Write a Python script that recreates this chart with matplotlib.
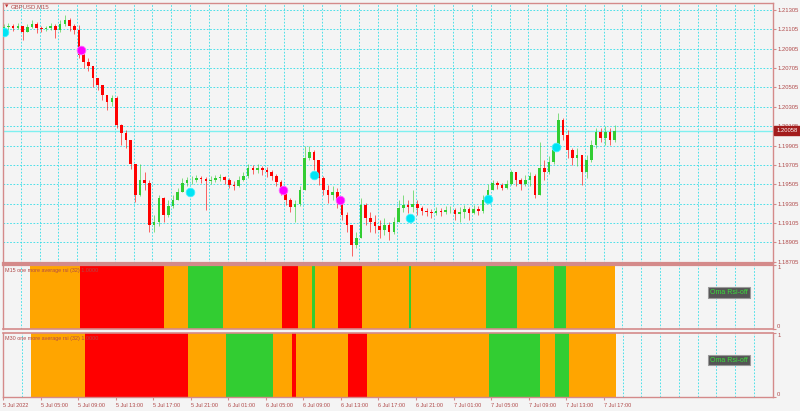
import matplotlib
matplotlib.use('Agg')
import matplotlib.pyplot as plt
import numpy as np

plt.rcParams['font.family'] = ['Liberation Sans', 'DejaVu Sans']

# ---------------- data ----------------
symbol_title = "GBPUSD,M15"
first_open = 1.2111
# 30-minute candles starting 5 Jul 2022 01:00 (x in M15 bar units)
closes = [1.2113, 1.2114, 1.2112, 1.2114, 1.2108, 1.2113, 1.2116, 1.2112, 1.2111, 1.2112,
          1.2114, 1.2110, 1.2116, 1.2120, 1.2114, 1.2110, 1.2084, 1.2077, 1.2073, 1.2060,
          1.2053, 1.2043, 1.2035, 1.2040, 1.2012, 1.2004, 1.1996, 1.1971, 1.1940, 1.1955,
          1.1952, 1.1909, 1.1912, 1.1936, 1.1919, 1.1928, 1.1934, 1.1943, 1.1952, 1.1955,
          1.1955, 1.1957, 1.1956, 1.1954, 1.1955, 1.1957, 1.1958, 1.1955, 1.1950, 1.1949,
          1.1955, 1.1959, 1.1967, 1.1965, 1.1967, 1.1965, 1.1963, 1.1959, 1.1953, 1.1943,
          1.1934, 1.1927, 1.1930, 1.1945, 1.1978, 1.1984, 1.1976, 1.1957, 1.1945, 1.1939,
          1.1943, 1.1934, 1.1919, 1.1909, 1.1888, 1.1895, 1.1929, 1.1916, 1.1912, 1.1908,
          1.1903, 1.1909, 1.1901, 1.1912, 1.1926, 1.1929, 1.1927, 1.1930, 1.1926, 1.1923,
          1.1922, 1.1921, 1.1923, 1.1922, 1.1924, 1.1924, 1.1920, 1.1922, 1.1925, 1.1921,
          1.1925, 1.1923, 1.1934, 1.1945, 1.1952, 1.1950, 1.1947, 1.1951, 1.1963, 1.1955,
          1.1951, 1.1955, 1.1959, 1.1940, 1.1967, 1.1963, 1.1974, 1.1986, 1.2017, 1.2001,
          1.1986, 1.1978, 1.1981, 1.1963, 1.1976, 1.1991, 1.2005, 1.1998, 1.2005, 1.1996,
          1.20058]
highs = [1.2116, 1.2117, 1.2116, 1.2117, 1.2114, 1.2116, 1.2120, 1.2118, 1.2114, 1.2114,
         1.2117, 1.2116, 1.2120, 1.2125, 1.2122, 1.2116, 1.2115, 1.2087, 1.2081, 1.2073,
         1.2060, 1.2053, 1.2043, 1.2043, 1.2042, 1.2013, 1.2007, 1.1996, 1.1971, 1.1971,
         1.1963, 1.1955, 1.1919, 1.1940, 1.1937, 1.1934, 1.1940, 1.1947, 1.1957, 1.1958,
         1.1959, 1.1960, 1.1959, 1.1958, 1.1959, 1.1960, 1.1961, 1.1959, 1.1957, 1.1954,
         1.1959, 1.1963, 1.1972, 1.1970, 1.1972, 1.1969, 1.1968, 1.1965, 1.1961, 1.1955,
         1.1945, 1.1936, 1.1934, 1.1949, 1.1990, 1.1990, 1.1986, 1.1976, 1.1959, 1.1950,
         1.1949, 1.1947, 1.1936, 1.1922, 1.1909, 1.1901, 1.1936, 1.1931, 1.1922, 1.1919,
         1.1914, 1.1916, 1.1912, 1.1917, 1.1934, 1.1939, 1.1934, 1.1945, 1.1934, 1.1928,
         1.1926, 1.1925, 1.1927, 1.1926, 1.1928, 1.1928, 1.1926, 1.1927, 1.1929, 1.1927,
         1.1929, 1.1928, 1.1940, 1.1951, 1.1955, 1.1954, 1.1952, 1.1955, 1.1965, 1.1963,
         1.1957, 1.1960, 1.1963, 1.1961, 1.1994, 1.1976, 1.1980, 1.1991, 1.2024, 1.2019,
         1.2007, 1.1988, 1.1988, 1.1981, 1.1981, 1.1996, 1.2009, 1.2009, 1.2011, 1.2009,
         1.2012]
lows = [1.2110, 1.2110, 1.2109, 1.2111, 1.2100, 1.2108, 1.2112, 1.2107, 1.2108, 1.2109,
        1.2110, 1.2102, 1.2108, 1.2114, 1.2109, 1.2106, 1.2081, 1.2071, 1.2067, 1.2051,
        1.2048, 1.2038, 1.2027, 1.2031, 1.2009, 1.1991, 1.1988, 1.1966, 1.1932, 1.1938,
        1.1945, 1.1901, 1.1901, 1.1908, 1.1912, 1.1917, 1.1926, 1.1934, 1.1943, 1.1949,
        1.1951, 1.1953, 1.1952, 1.1924, 1.1951, 1.1953, 1.1954, 1.1951, 1.1947, 1.1945,
        1.1948, 1.1954, 1.1957, 1.1961, 1.1962, 1.1960, 1.1958, 1.1955, 1.1949, 1.1939,
        1.1929, 1.1922, 1.1912, 1.1928, 1.1945, 1.1976, 1.1965, 1.1950, 1.1939, 1.1931,
        1.1934, 1.1926, 1.1914, 1.1901, 1.1877, 1.1885, 1.1895, 1.1909, 1.1901, 1.1900,
        1.1895, 1.1898, 1.1893, 1.1899, 1.1912, 1.1922, 1.1921, 1.1922, 1.1919, 1.1919,
        1.1918, 1.1916, 1.1919, 1.1918, 1.1920, 1.1921, 1.1914, 1.1912, 1.1916, 1.1914,
        1.1920, 1.1919, 1.1921, 1.1934, 1.1945, 1.1946, 1.1945, 1.1946, 1.1950, 1.1949,
        1.1945, 1.1949, 1.1949, 1.1936, 1.1939, 1.1955, 1.1961, 1.1972, 1.1986, 1.1996,
        1.1978, 1.1970, 1.1969, 1.1950, 1.1957, 1.1974, 1.1988, 1.1994, 1.1991, 1.1991,
        1.1994]
current_price = 1.20058

# signal arrows (bar index in M15 units, price)
buy_sig_x = [0.85, 80.0, 132.8, 173.6, 206.8, 235.7]
buy_sig_y = [1.2108, 1.1943, 1.1960, 1.1916, 1.19354, 1.1989]
sell_sig_x = [33.6, 119.6, 143.8]
sell_sig_y = [1.20892, 1.1945, 1.1934]

# indicator states as runs (state, number of M15 bars), starting at bar 12
ind_start = 12
m15_runs = [("o", 21), ("r", 36), ("o", 10), ("g", 15), ("o", 25), ("r", 7), ("o", 6),
            ("g", 1), ("o", 10), ("r", 10), ("o", 20), ("g", 1), ("o", 32), ("g", 13),
            ("o", 16), ("g", 5), ("o", 21)]
m30_runs = [("o", 23), ("r", 44), ("o", 16), ("g", 20), ("o", 8), ("r", 2), ("o", 22),
            ("r", 8), ("o", 52), ("g", 22), ("o", 6), ("g", 6), ("o", 20)]
panel_labels = ["M15 one more average rsi (32) 1.0000", "M30 one more average rsi (32) 1.0000"]
button_text = "Oma Rsi-off"

price_ticks = [1.18705, 1.18905, 1.19105, 1.19305, 1.19505, 1.19705, 1.19905,
               1.20105, 1.20305, 1.20505, 1.20705, 1.20905, 1.21105, 1.21305]
time_tick_pos = [0, 16, 32, 48, 64, 80, 96, 112, 128, 144, 160, 176, 192, 208, 224, 240, 256]
time_tick_labels = ["5 Jul 2022", "5 Jul 05:00", "5 Jul 09:00", "5 Jul 13:00", "5 Jul 17:00",
                    "5 Jul 21:00", "6 Jul 01:00", "6 Jul 05:00", "6 Jul 09:00", "6 Jul 13:00",
                    "6 Jul 17:00", "6 Jul 21:00", "7 Jul 01:00", "7 Jul 05:00", "7 Jul 09:00",
                    "7 Jul 13:00", "7 Jul 17:00"]

# ---------------- style ----------------
BG = '#f4f4f4'
FRAME = '#d48a8a'
GRID = '#30dde6'
TXT = '#b04a4a'
UP = '#32cd32'
DN = '#ff0000'
STATE_COL = {"o": '#ffa500', "r": '#ff0000', "g": '#32cd32'}

W, H = 800, 411
fig = plt.figure(figsize=(W / 100, H / 100), dpi=100, facecolor=BG)
L, R = 3 / W, 773 / W
ax = fig.add_axes([L, 1 - 263 / H, R - L, 260 / H])
ax1 = fig.add_axes([L, 1 - 329 / H, R - L, 64 / H])
ax2 = fig.add_axes([L, 1 - 397 / H, R - L, 64 / H])

XMIN, XMAX = 0.43, 328.1
grid_x = np.arange(0, 330, 8)

for a in (ax, ax1, ax2):
    a.set_facecolor(BG)
    a.set_xlim(XMIN, XMAX)
    for s in a.spines.values():
        s.set_color(FRAME)
        s.set_linewidth(1.0)
    for gx in grid_x:
        a.axvline(gx, color=GRID, lw=0.6, ls=(0, (2, 2)), zorder=0.5)
    a.yaxis.tick_right()
    a.tick_params(axis='y', labelsize=4.2, labelcolor=TXT, color=FRAME, length=2, pad=1)
    a.tick_params(axis='x', length=0, labelbottom=False)

ax.spines['bottom'].set_linewidth(1.6)
ax1.spines['top'].set_linewidth(1.6)
ax1.spines['bottom'].set_linewidth(1.2)
ax2.spines['top'].set_linewidth(1.2)

# ---------------- main candles ----------------
closes_a = np.array(closes)
highs_a = np.array(highs)
lows_a = np.array(lows)
opens_a = np.concatenate([[first_open], closes_a[:-1]])
xs = np.arange(len(closes_a)) * 2 + 0.75
up = closes_a >= opens_a
cols = np.where(up, UP, DN)

ax.vlines(xs, lows_a, highs_a, colors=cols, lw=0.7, alpha=0.6, zorder=2)
body_bot = np.minimum(opens_a, closes_a)
body_h = np.maximum(np.abs(closes_a - opens_a), 0.00004)
ax.bar(xs, body_h, bottom=body_bot, width=1.1, color=cols, linewidth=0, zorder=3)

ax.set_ylim(1.18693, 1.21377)
ax.set_yticks(price_ticks)
ax.set_yticklabels([f"{v:.5f}" for v in price_ticks])
for py in price_ticks:
    ax.axhline(py, color=GRID, lw=0.6, ls=(0, (2, 2)), zorder=0.5)

ax.axhline(current_price, color='#7ff0f0', lw=1.0, zorder=1.5)
ax.annotate(f"{current_price:.5f}", xy=(1.0, current_price), xycoords=('axes fraction', 'data'),
            xytext=(2.5, 0), textcoords='offset points', va='center', ha='left',
            fontsize=4.2, color='white', zorder=10, annotation_clip=False,
            bbox=dict(boxstyle='square,pad=0.35', fc='#a31c1c', ec='#a31c1c'))

ax.plot(buy_sig_x, buy_sig_y, 'o', color='#00e4f4', markersize=6.2,
        markeredgecolor='#40f0ff', markeredgewidth=0.6, zorder=5)
ax.plot(sell_sig_x, sell_sig_y, 'o', color='#ff00ff', markersize=6.2,
        markeredgecolor='#ff60ff', markeredgewidth=0.6, zorder=5)

fig.text(5 / W, 1 - 6.5 / H, "\u25bc", fontsize=3.2, color='#c03030', va='center', ha='left',
         family='DejaVu Sans')
fig.text(11 / W, 1 - 6.5 / H, symbol_title, fontsize=4.3, color=TXT, va='center', ha='left')

# ---------------- indicator panels ----------------
def expand(runs):
    st = []
    for s, n in runs:
        st += [s] * n
    return st

for a, runs, lab in ((ax1, m15_runs, panel_labels[0]), (ax2, m30_runs, panel_labels[1])):
    states = expand(runs)
    bx = ind_start + np.arange(len(states))
    a.bar(bx, np.ones(len(states)), width=1.0, align='edge',
          color=[STATE_COL[s] for s in states], linewidth=0, zorder=2)
    a.set_ylim(0, 1)
    a.set_yticks([0, 1])
    a.set_yticklabels(['0', '1'])
    lbls = a.get_yticklabels()
    lbls[0].set_va('bottom')
    lbls[1].set_va('top')
    a.axhline(0, color=GRID, lw=0.6, ls=(0, (2, 2)), zorder=3)
    a.text(0.0028, 0.95, lab, transform=a.transAxes, fontsize=3.9, color=TXT,
           va='top', ha='left', zorder=6)

for yc in (292.5, 360.0):
    fig.text(729 / W, 1 - yc / H, button_text, fontsize=5.0, color='#3ade3a',
             ha='center', va='center', zorder=10,
             bbox=dict(boxstyle='square,pad=0.28', fc='#555555', ec='#9a9a9a', lw=0.8))

# x axis labels
ax2.set_xticks(time_tick_pos)
ax2.set_xticklabels(time_tick_labels)
ax2.tick_params(axis='x', labelbottom=True, length=2.5, color=FRAME, labelsize=4.0,
                labelcolor=TXT, pad=1.5)
for t in ax2.get_xticklabels():
    t.set_ha('left')

fig.savefig('out.png', dpi=100, facecolor=BG)
